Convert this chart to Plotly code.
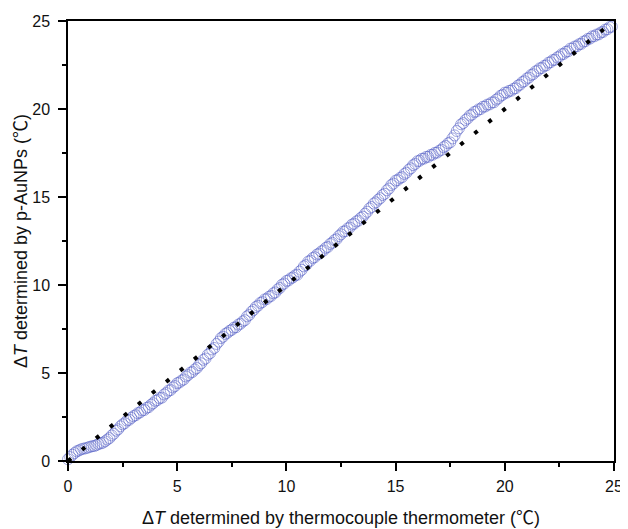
import plotly.graph_objects as go

# Thermocouple ΔT (x) vs. p-AuNPs ΔT (y)
x_tc = [
    0.0, 0.1, 0.2, 0.3, 0.4, 0.5, 0.6, 0.7, 0.8, 0.9,
    1.0, 1.1, 1.2, 1.3, 1.4, 1.5, 1.6, 1.7, 1.8, 1.9,
    2.0, 2.1, 2.2, 2.3, 2.4, 2.5, 2.6, 2.7, 2.8, 2.9,
    3.0, 3.1, 3.2, 3.3, 3.4, 3.5, 3.6, 3.7, 3.8, 3.9,
    4.0, 4.1, 4.2, 4.3, 4.4, 4.5, 4.6, 4.7, 4.8, 4.9,
    5.0, 5.1, 5.2, 5.3, 5.4, 5.5, 5.6, 5.7, 5.8, 5.9,
    6.0, 6.1, 6.2, 6.3, 6.4, 6.5, 6.6, 6.7, 6.8, 6.9,
    7.0, 7.1, 7.2, 7.3, 7.4, 7.5, 7.6, 7.7, 7.8, 7.9,
    8.0, 8.1, 8.2, 8.3, 8.4, 8.5, 8.6, 8.7, 8.8, 8.9,
    9.0, 9.1, 9.2, 9.3, 9.4, 9.5, 9.6, 9.7, 9.8, 9.9,
    10.0, 10.1, 10.2, 10.3, 10.4, 10.5, 10.6, 10.7, 10.8, 10.9,
    11.0, 11.1, 11.2, 11.3, 11.4, 11.5, 11.6, 11.7, 11.8, 11.9,
    12.0, 12.1, 12.2, 12.3, 12.4, 12.5, 12.6, 12.7, 12.8, 12.9,
    13.0, 13.1, 13.2, 13.3, 13.4, 13.5, 13.6, 13.7, 13.8, 13.9,
    14.0, 14.1, 14.2, 14.3, 14.4, 14.5, 14.6, 14.7, 14.8, 14.9,
    15.0, 15.1, 15.2, 15.3, 15.4, 15.5, 15.6, 15.7, 15.8, 15.9,
    16.0, 16.1, 16.2, 16.3, 16.4, 16.5, 16.6, 16.7, 16.8, 16.9,
    17.0, 17.1, 17.2, 17.3, 17.4, 17.5, 17.6, 17.7, 17.8, 17.9,
    18.0, 18.1, 18.2, 18.3, 18.4, 18.5, 18.6, 18.7, 18.8, 18.9,
    19.0, 19.1, 19.2, 19.3, 19.4, 19.5, 19.6, 19.7, 19.8, 19.9,
    20.0, 20.1, 20.2, 20.3, 20.4, 20.5, 20.6, 20.7, 20.8, 20.9,
    21.0, 21.1, 21.2, 21.3, 21.4, 21.5, 21.6, 21.7, 21.8, 21.9,
    22.0, 22.1, 22.2, 22.3, 22.4, 22.5, 22.6, 22.7, 22.8, 22.9,
    23.0, 23.1, 23.2, 23.3, 23.4, 23.5, 23.6, 23.7, 23.8, 23.9,
    24.0, 24.1, 24.2, 24.3, 24.4, 24.5, 24.6, 24.7, 24.8, 24.9,
]
y_np = [
    0.10, 0.22, 0.35, 0.45, 0.55, 0.60, 0.66, 0.70, 0.72, 0.76,
    0.80, 0.84, 0.85, 0.90, 0.97, 1.00, 1.04, 1.12, 1.22, 1.30,
    1.45, 1.55, 1.72, 1.80, 1.97, 2.08, 2.15, 2.30, 2.34, 2.45,
    2.55, 2.60, 2.72, 2.76, 2.88, 2.90, 3.02, 3.06, 3.20, 3.28,
    3.42, 3.46, 3.57, 3.60, 3.78, 3.86, 4.00, 4.03, 4.18, 4.26,
    4.42, 4.46, 4.57, 4.63, 4.80, 4.88, 5.02, 5.06, 5.20, 5.28,
    5.45, 5.55, 5.75, 5.82, 6.04, 6.12, 6.34, 6.42, 6.65, 6.78,
    6.98, 7.06, 7.22, 7.28, 7.40, 7.45, 7.58, 7.60, 7.75, 7.80,
    7.93, 8.00, 8.22, 8.30, 8.48, 8.58, 8.75, 8.82, 8.98, 9.03,
    9.18, 9.20, 9.33, 9.38, 9.53, 9.58, 9.75, 9.83, 10.02, 10.08,
    10.23, 10.26, 10.38, 10.43, 10.55, 10.58, 10.76, 10.86, 11.06, 11.13,
    11.33, 11.38, 11.53, 11.58, 11.73, 11.78, 11.91, 11.96, 12.11, 12.16,
    12.33, 12.40, 12.55, 12.60, 12.78, 12.88, 13.03, 13.06, 13.21, 13.26,
    13.43, 13.48, 13.61, 13.66, 13.81, 13.88, 14.05, 14.16, 14.35, 14.43,
    14.63, 14.70, 14.85, 14.93, 15.11, 15.18, 15.38, 15.48, 15.68, 15.76,
    15.93, 15.96, 16.08, 16.13, 16.31, 16.38, 16.55, 16.63, 16.81, 16.88,
    17.03, 17.06, 17.17, 17.18, 17.28, 17.28, 17.39, 17.40, 17.51, 17.52,
    17.63, 17.68, 17.83, 17.90, 18.05, 18.10, 18.33, 18.50, 18.75, 18.90,
    19.13, 19.20, 19.38, 19.46, 19.63, 19.68, 19.83, 19.86, 19.98, 20.00,
    20.13, 20.14, 20.25, 20.26, 20.37, 20.38, 20.53, 20.60, 20.75, 20.80,
    20.93, 20.93, 21.03, 21.04, 21.15, 21.18, 21.33, 21.38, 21.53, 21.58,
    21.73, 21.78, 21.93, 21.98, 22.13, 22.18, 22.31, 22.33, 22.45, 22.48,
    22.63, 22.66, 22.78, 22.80, 22.93, 22.98, 23.11, 23.13, 23.25, 23.28,
    23.43, 23.44, 23.55, 23.56, 23.68, 23.70, 23.83, 23.86, 23.98, 24.00,
    24.13, 24.13, 24.23, 24.24, 24.35, 24.38, 24.51, 24.53, 24.65, 24.68,
]
# ideal y = x reference line endpoints
ref_x = [0, 25]
ref_y = [0, 25]
tick_vals = [0, 5, 10, 15, 20, 25]
tick_text = ["0", "5", "10", "15", "20", "25"]
minor_vals = [2.5, 7.5, 12.5, 17.5, 22.5]

FONT = "Liberation Sans, Arial, Noto Sans CJK SC, sans-serif"

fig = go.Figure()
fig.add_trace(go.Scatter(
    x=x_tc, y=y_np, mode="markers",
    marker=dict(symbol="circle-open", size=11,
                color="rgba(80,92,195,0.6)",
                line=dict(width=0.9, color="rgba(80,92,195,0.6)")),
    showlegend=False, cliponaxis=False,
))
fig.add_trace(go.Scatter(
    x=ref_x, y=ref_y, mode="lines",
    line=dict(color="black", width=4, dash="4px,14px"),
    showlegend=False,
))

axis_common = dict(
    range=[0, 25], showgrid=False, zeroline=False, automargin=False,
    showline=True, linecolor="black", linewidth=1.5, mirror=True,
    ticks="outside", ticklen=8, tickwidth=1.5, tickcolor="black",
    tickvals=tick_vals, ticktext=tick_text,
    tickfont=dict(family=FONT, size=16, color="#111"),
    minor=dict(ticks="outside", ticklen=4, tickwidth=1.5, tickcolor="black",
               tickvals=minor_vals),
)

# the page body adds an 8px offset, so the figure is sized to the remaining area
fig.update_layout(
    width=620, height=521,
    margin=dict(l=60, r=14, t=13, b=68),
    plot_bgcolor="white", paper_bgcolor="white",
    font=dict(family=FONT, color="#111"),
    xaxis=dict(**axis_common, ticklabelstandoff=2,
               title=dict(text="Δ<i>T</i> determined by thermocouple thermometer (℃)",
                          font=dict(family=FONT, size=18), standoff=17)),
    yaxis=dict(**axis_common, ticklabelstandoff=5,
               title=dict(text="Δ<i>T</i> determined by p-AuNPs (℃)",
                          font=dict(family=FONT, size=18), standoff=0)),
)

fig.write_html("out.html")
